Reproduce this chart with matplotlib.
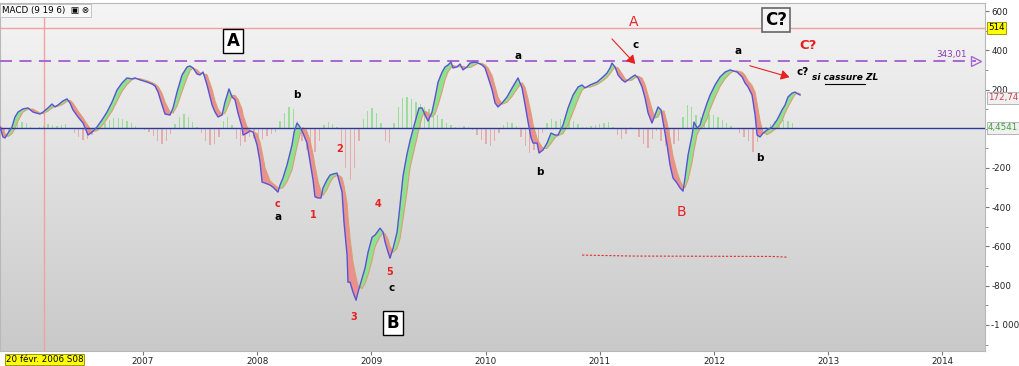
import numpy as np
import matplotlib.pyplot as plt
from matplotlib.patches import FancyArrowPatch

# ------------------------------------------------------------------ data
# weekly MACD (9 19 6), x in decimal years
macd_t = [2005.748, 2005.774, 2005.792, 2005.818, 2005.853, 2005.879, 2005.906, 2005.949, 2005.993, 2006.037,
          2006.098, 2006.125, 2006.168, 2006.203, 2006.230, 2006.256, 2006.300, 2006.335, 2006.361, 2006.387,
          2006.431, 2006.475, 2006.519, 2006.554, 2006.597, 2006.641, 2006.685, 2006.729, 2006.773, 2006.816,
          2006.860, 2006.904, 2006.930, 2006.974, 2007.035, 2007.079, 2007.105, 2007.132, 2007.167, 2007.193,
          2007.237, 2007.263, 2007.298, 2007.342, 2007.386, 2007.412, 2007.438, 2007.473, 2007.499, 2007.526,
          2007.561, 2007.605, 2007.631, 2007.657, 2007.692, 2007.718, 2007.753, 2007.780, 2007.806, 2007.832,
          2007.867, 2007.876, 2007.911, 2007.937, 2007.964, 2007.999, 2008.025, 2008.043, 2008.069, 2008.112,
          2008.139, 2008.182, 2008.200, 2008.226, 2008.261, 2008.305, 2008.323, 2008.349, 2008.375, 2008.401,
          2008.436, 2008.463, 2008.489, 2008.506, 2008.533, 2008.559, 2008.576, 2008.611, 2008.638, 2008.664,
          2008.699, 2008.708, 2008.743, 2008.760, 2008.787, 2008.795, 2008.813, 2008.839, 2008.866, 2008.883,
          2008.918, 2008.944, 2008.971, 2009.006, 2009.032, 2009.076, 2009.102, 2009.120, 2009.146, 2009.163,
          2009.190, 2009.225, 2009.251, 2009.277, 2009.312, 2009.338, 2009.382, 2009.417, 2009.444, 2009.470,
          2009.496, 2009.531, 2009.557, 2009.584, 2009.619, 2009.645, 2009.671, 2009.697, 2009.715, 2009.750,
          2009.776, 2009.802, 2009.837, 2009.864, 2009.907, 2009.934, 2009.969, 2009.995, 2010.021, 2010.057,
          2010.083, 2010.109, 2010.144, 2010.188, 2010.232, 2010.284, 2010.319, 2010.346, 2010.372, 2010.398,
          2010.416, 2010.451, 2010.468, 2010.503, 2010.538, 2010.573, 2010.608, 2010.634, 2010.678, 2010.722,
          2010.766, 2010.810, 2010.844, 2010.871, 2010.914, 2010.976, 2011.028, 2011.063, 2011.090, 2011.107,
          2011.133, 2011.160, 2011.195, 2011.221, 2011.247, 2011.282, 2011.309, 2011.335, 2011.370, 2011.396,
          2011.423, 2011.457, 2011.484, 2011.510, 2011.536, 2011.563, 2011.589, 2011.615, 2011.641, 2011.676,
          2011.703, 2011.729, 2011.746, 2011.773, 2011.808, 2011.825, 2011.852, 2011.878, 2011.904, 2011.939,
          2011.966, 2012.009, 2012.053, 2012.097, 2012.141, 2012.167, 2012.202, 2012.246, 2012.272, 2012.298,
          2012.333, 2012.360, 2012.377, 2012.403, 2012.430, 2012.465, 2012.508, 2012.552, 2012.596, 2012.622,
          2012.648, 2012.684, 2012.710, 2012.736, 2012.754]
macd_v = [9, -42, -47, -22, 9, 60, 85, 101, 106, 85,
          75, 85, 106, 126, 111, 121, 142, 152, 131, 96,
          60, 29, -32, -17, 9, 45, 85, 136, 198, 233,
          259, 254, 259, 249, 238, 228, 218, 187, 121, 75,
          70, 106, 187, 274, 315, 320, 310, 279, 274, 289,
          223, 121, 85, 60, 70, 136, 203, 162, 147, 80,
          9, -32, -22, -11, -17, -83, -170, -272, -277, -287,
          -298, -323, -287, -251, -185, -83, -17, 29, 9, -22,
          -73, -170, -261, -347, -353, -353, -302, -261, -236, -231,
          -226, -246, -323, -476, -644, -782, -782, -833, -874, -833,
          -762, -711, -629, -553, -542, -507, -527, -578, -629, -660,
          -609, -527, -389, -241, -129, -62, 34, 106, 106, 70,
          39, 85, 157, 238, 289, 315, 325, 340, 310, 315,
          330, 300, 315, 335, 340, 335, 325, 310, 264, 198,
          131, 111, 131, 162, 208, 259, 208, 121, 34, -47,
          -73, -73, -124, -108, -73, -22, -32, -32, 19, 106,
          172, 213, 223, 208, 223, 238, 264, 284, 310, 335,
          315, 274, 249, 238, 249, 264, 274, 259, 213, 157,
          80, 29, 70, 111, 96, 4, -83, -185, -251, -277,
          -302, -318, -251, -134, -32, 34, 4, 19, 70, 131,
          172, 223, 264, 289, 300, 295, 289, 264, 233, 213,
          172, 70, -32, -42, -22, -6, 9, 45, 96, 121,
          162, 182, 187, 177, 172]
signal_v = [12, 0, -25, -40, -25, 0, 40, 85, 100, 100,
            80, 77, 90, 105, 115, 115, 125, 140, 145, 130,
            90, 55, 15, -15, -10, 15, 50, 90, 140, 190,
            225, 250, 255, 255, 245, 235, 228, 215, 180, 135,
            85, 80, 115, 190, 260, 295, 310, 300, 285, 280,
            275, 200, 140, 100, 72, 80, 125, 170, 170, 150,
            100, 70, 10, -10, -15, -25, -70, -120, -200, -265,
            -280, -300, -305, -300, -270, -210, -160, -90, -30, 5,
            -15, -60, -130, -190, -270, -320, -340, -310, -275, -250,
            -238, -235, -250, -290, -380, -450, -560, -680, -760, -800,
            -815, -790, -745, -670, -600, -550, -530, -535, -565, -600,
            -630, -610, -560, -460, -320, -200, -90, 0, 60, 90,
            80, 60, 75, 120, 190, 250, 290, 310, 322, 318,
            315, 318, 312, 312, 325, 333, 333, 325, 310, 270,
            215, 160, 125, 135, 165, 210, 235, 210, 150, 80,
            20, -50, -70, -100, -100, -75, -45, -35, -25, 20,
            85, 150, 195, 212, 212, 225, 245, 262, 280, 295,
            315, 310, 280, 255, 245, 248, 260, 268, 258, 225,
            170, 100, 55, 60, 90, 90, 30, -50, -140, -220,
            -265, -295, -300, -260, -170, -110, -30, 0, 10, 50,
            100, 160, 215, 255, 282, 293, 295, 288, 272, 245,
            220, 185, 130, 40, -20, -30, -15, 5, 40, 80,
            110, 150, 175, 182, 178]
# histogram, one bar every two weeks from the first date
hist_start = 2005.748
hist_v = [-20, -30, -20, 20, 35, 35, 30, 10, 5, 8,
          15, 25, 20, 15, 20, 25, 5, -20, -40, -55,
          -50, -30, -10, 15, 30, 45, 55, 55, 50, 40,
          30, 15, 5, -5, -15, -35, -65, -80, -65, -25,
          25, 60, 75, 60, 35, 10, -20, -60, -85, -80,
          -40, 40, 60, 20, -50, -90, -70, -40, -45, -50,
          -50, -35, -25, -15, 40, 80, 110, 100, 40, -60,
          -110, -145, -120, -60, 20, 35, 25, 10, -100, -200,
          -260, -200, -60, 50, 90, 105, 80, 30, -60, -75,
          30, 110, 155, 160, 150, 135, 125, 110, 100, 85,
          70, 50, 30, 20, 10, 5, 15, 10, -5, -30,
          -55, -80, -90, -60, -20, 20, 35, 30, 15, -40,
          -90, -125, -110, -70, -20, 30, 50, 40, 50, 55,
          50, 40, 25, 10, 10, 15, 20, 25, 30, 35,
          10, -30, -50, -25, 10, 5, -40, -80, -100, -50,
          -10, -60, -90, -100, -80, -60, 60, 120, 110, 70,
          60, 65, 75, 70, 60, 45, 30, 15, 5, -20,
          -40, -60, -120, -70, -20, 10, 25, 40, 35, 45,
          40, 30, 5]

level_red = 514
level_dash = 343.01
level_zero = 4.4541
last_signal = 172.74
marker_date = 2006.137          # 20 févr. 2006
dotted_t = [2010.845, 2011.290, 2012.510, 2012.648]
dotted_v = [-644, -649, -651, -655]

year_ticks = [2007, 2008, 2009, 2010, 2011, 2012, 2013, 2014]
y_ticks = [600, 400, 200, -200, -400, -600, -800, -1000]
y_labels = ['600', '400', '200', '-200', '-400', '-600', '-800', '-1 000']

# ------------------------------------------------------------------ figure
fig = plt.figure(figsize=(10.2, 3.66), dpi=100)
ax = fig.add_axes([0, 15 / 366, 985 / 1020, 348 / 366])
x_lo, x_hi = 2005.748, 2014.373
y_lo, y_hi = -1133, 641
ax.set_xlim(x_lo, x_hi)
ax.set_ylim(y_lo, y_hi)

# grey gradient background
grad = np.linspace(0, 1, 256).reshape(-1, 1)
ax.imshow(grad, extent=[x_lo, x_hi, y_lo, y_hi], aspect='auto', origin='upper',
          cmap=plt.matplotlib.colors.LinearSegmentedColormap.from_list('bg', ['#f5f5f5', '#c9c9c9']),
          zorder=0)

# histogram
hist_t = hist_start + np.arange(len(hist_v)) * 14 / 365.25
hist_v = np.array(hist_v)
ax.bar(hist_t, hist_v, width=0.012, bottom=0,
       color=np.where(hist_v >= 0, '#9ade9a', '#e6abab'), zorder=1)

# MACD / signal with fill
t = np.array(macd_t)
m = np.array(macd_v)
s = np.array(signal_v)
ax.fill_between(t, m, s, where=m >= s, interpolate=True, color='#8fe08f', lw=0, zorder=2)
ax.fill_between(t, m, s, where=m < s, interpolate=True, color='#eb8f8f', lw=0, zorder=2)
ax.plot(t, s, color='#d9a070', lw=0.8, zorder=3)
ax.plot(t, m, color='#5555d5', lw=1.0, zorder=4)

# levels
ax.axhline(level_zero, color='#2a3a9a', lw=1.0, zorder=3)
ax.axhline(level_red, color='#f2a0a0', lw=1.0, zorder=1)
ax.plot([x_lo, 2014.29], [level_dash, level_dash], color='#a868d0', lw=1.4,
        dashes=(6.2, 3.8), zorder=3)
ax.plot([2014.29], [level_dash], marker='>', ms=7, mfc='none', mec='#a868d0', zorder=4)
ax.text(2014.08, level_dash + 10, '343,01', color='#8a3ab0', fontsize=6.3, ha='center', va='bottom')
ax.axvline(marker_date, color='#f2a0a0', lw=1.0, zorder=1)
ax.plot(dotted_t, dotted_v, color='#e03030', lw=0.8, ls=(0, (2, 1.5)), zorder=3)

# wave labels
box = dict(boxstyle='square,pad=0.2', fc='white', ec='black', lw=1)
ax.text(2007.788, 447, 'A', fontsize=12, fontweight='bold', ha='center', va='center', bbox=box)
ax.text(2009.19, -991, 'B', fontsize=12, fontweight='bold', ha='center', va='center', bbox=box)
ax.text(2012.543, 555, 'C?', fontsize=12, fontweight='bold', ha='center', va='center',
        bbox=dict(boxstyle='square,pad=0.2', fc='#f4f4f4', ec='#666666', lw=1.2))

red = '#e82020'
blk_labels = [(2011.318, 427, 'c'), (2010.284, 371, 'a'), (2012.21, 396, 'a'),
              (2008.349, 172, 'b'), (2008.182, -450, 'a'), (2009.18, -812, 'c'),
              (2010.477, -221, 'b'), (2012.403, -149, 'b'), (2012.78, 289, 'c?')]
for xx, yy, txt in blk_labels:
    ax.text(xx, yy, txt, fontsize=7.5, fontweight='bold', ha='center', va='center', color='black')
red_small = [(2008.182, -384, 'c'), (2008.489, -440, '1'), (2008.725, -104, '2'),
             (2008.848, -960, '3'), (2009.058, -384, '4'), (2009.163, -731, '5')]
for xx, yy, txt in red_small:
    ax.text(xx, yy, txt, fontsize=7, fontweight='bold', ha='center', va='center', color=red)
ax.text(2011.30, 544, 'A', fontsize=10, ha='center', va='center', color=red)
ax.text(2011.712, -425, 'B', fontsize=10, ha='center', va='center', color=red)
ax.text(2012.824, 422, 'C?', fontsize=9.5, fontweight='bold', ha='center', va='center', color=red)
ax.text(2013.148, 259, 'si cassure ZL', fontsize=6.5, fontweight='bold', style='italic',
        ha='center', va='center', color='black')
ax.plot([2012.975, 2013.32], [228, 228], color='black', lw=0.8)

for (x0, y0), (x1, y1) in [((2011.09, 468), (2011.327, 320)), ((2012.29, 325), (2012.684, 259))]:
    ax.add_patch(FancyArrowPatch((x0, y0), (x1, y1), arrowstyle='-|>,head_length=5,head_width=3',
                                 color=red, lw=0.8, zorder=5))

# axes styling
ax.yaxis.tick_right()
ax.set_yticks(y_ticks)
ax.set_yticklabels(y_labels)
ax.set_yticks(np.arange(-1100, 700, 100), minor=True)
ax.set_xticks(year_ticks)
ax.set_xticklabels([str(y) for y in year_ticks])
ax.tick_params(axis='both', which='both', direction='out', length=3, color='#777777',
               labelsize=6.3, labelcolor='#222222', pad=1.5)
ax.tick_params(axis='y', which='minor', length=2)
for sp in ax.spines.values():
    sp.set_color('#b8b8b8')

# right-hand value tags (drawn over the tick labels, as in the original)
tag = dict(ha='left', va='center', fontsize=6.3, transform=ax.get_yaxis_transform(),
           clip_on=False, zorder=10)
ax.text(1.003, level_red, '514', color='black',
        bbox=dict(boxstyle='square,pad=0.15', fc='#ffff00', ec='#888800', lw=0.6), **tag)
ax.text(1.003, last_signal - 15, '172,74', color='#d04050',
        bbox=dict(boxstyle='square,pad=0.15', fc='#f0f0f0', ec='#aaaaaa', lw=0.6), **tag)
ax.text(1.003, level_zero, '4,4541', color='#40a040',
        bbox=dict(boxstyle='square,pad=0.15', fc='#f0f0f0', ec='#aaaaaa', lw=0.6), **tag)

# date tag at bottom and header
ax.text(marker_date, -0.012, '20 févr. 2006 S08', transform=ax.get_xaxis_transform(),
        ha='center', va='top', fontsize=6.3, clip_on=False,
        bbox=dict(boxstyle='square,pad=0.1', fc='#ffff00', ec='#888800', lw=0.6))
ax.text(0.002, 0.992, 'MACD (9 19 6)  \u25a3 \u2297', transform=ax.transAxes, ha='left', va='top',
        fontsize=6.3, bbox=dict(boxstyle='square,pad=0.25', fc='#f8f8f8', ec='#bbbbbb', lw=0.6), zorder=6)

fig.savefig('out.png', dpi=100)
